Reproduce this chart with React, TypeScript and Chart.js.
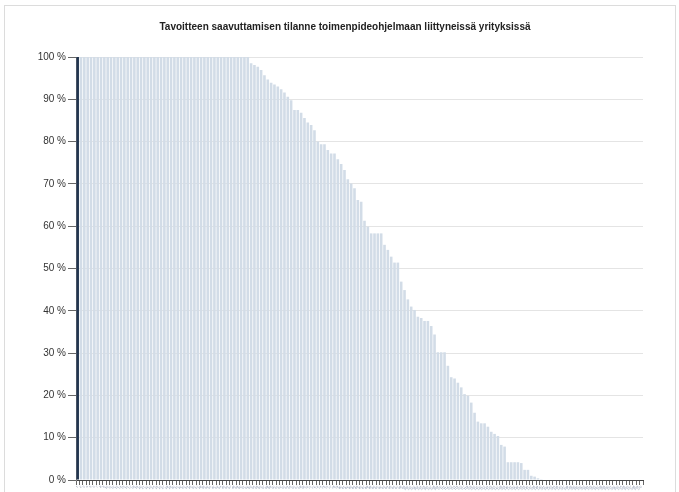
import React, { useEffect, useRef } from "react";
import { Chart, registerables } from "chart.js";

Chart.register(...registerables);

const chartTitle =
  "Tavoitteen saavuttamisen tilanne toimenpideohjelmaan liittyneissä yrityksissä";

// Achievement (%) per company, sorted descending
const achievement: number[] = [
  100, 100, 100, 100, 100, 100, 100, 100, 100, 100,
  100, 100, 100, 100, 100, 100, 100, 100, 100, 100,
  100, 100, 100, 100, 100, 100, 100, 100, 100, 100,
  100, 100, 100, 100, 100, 100, 100, 100, 100, 100,
  100, 100, 100, 100, 100, 100, 100, 100, 100, 100,
  100, 100,
  98.5, 98.1, 97.7, 96.9, 95.7, 94.7, 93.9, 93.5, 93, 92.4,
  91.6, 90.6, 89.8, 87.5, 87.5, 86.8, 85.6, 84.5, 83.9, 82.7,
  80, 79.4, 79.4, 78, 77.2, 77.2, 75.8, 74.7, 73.3, 71.1,
  70.1, 69, 66.2, 65.8, 61.3, 59.9, 58.3, 58.3, 58.3, 58.3,
  55.6, 54.4, 52.8, 51.4, 51.4, 46.9, 44.9, 42.7, 41, 40.2,
  38.6, 38.3, 37.6, 37.6, 36.4, 34.4, 30.2, 30.2, 30.2, 27,
  24.3, 24, 23, 21.9, 20.3, 19.9, 18.3, 15.9, 13.8, 13.4,
  13.4, 12.6, 11.4, 10.9, 10.4, 8.3, 7.9, 4.2, 4.2, 4.2,
  4.2, 4.0, 2.4, 2.4, 1.0, 0.8, 0.4, 0.2,
  0, 0, 0, 0, 0, 0, 0, 0, 0, 0,
  0, 0, 0, 0, 0, 0, 0, 0, 0, 0,
  0, 0, 0, 0, 0, 0, 0, 0, 0, 0,
];

// Company identifiers (illegible tiny labels in the source)
const companies: string[] = achievement.map((_, i) => String(i + 1));

const FONT = "'Liberation Sans', Arial, sans-serif";

const titlePlugin = {
  id: "centeredTitle",
  afterDraw(chart: any) {
    const ctx = chart.ctx;
    ctx.save();
    ctx.font = `bold 10px ${FONT}`;
    ctx.fillStyle = "#222";
    ctx.textAlign = "center";
    ctx.textBaseline = "middle";
    ctx.fillText(chartTitle, 345, 27);
    ctx.restore();
  },
};

export default function App() {
  const ref = useRef<HTMLCanvasElement>(null);

  useEffect(() => {
    document.body.style.margin = "0";
    const canvas = ref.current;
    if (!canvas) return;
    const chart = new Chart(canvas, {
      type: "bar",
      data: {
        labels: companies,
        datasets: [
          {
            data: achievement,
            backgroundColor: achievement.map((_, i) =>
              i === 0 ? "#22354f" : "#d2dce7"
            ),
            borderWidth: 0,
            barPercentage: 0.78,
            categoryPercentage: 1,
          },
        ],
      },
      options: {
        animation: false,
        responsive: false,
        layout: { padding: { left: 0, right: 36, top: 57, bottom: 0 } },
        plugins: {
          legend: { display: false },
          tooltip: { enabled: false },
          title: { display: false },
        },
        scales: {
          x: {
            grid: {
              display: true,
              drawOnChartArea: false,
              drawTicks: true,
              tickLength: 5,
              tickColor: "#666",
            },
            border: { display: true, color: "#444", width: 1 },
            ticks: {
              autoSkip: false,
              minRotation: 45,
              maxRotation: 45,
              padding: 0,
              color: "#7b89a6",
              font: { family: FONT, size: 3 },
            },
            afterFit: (s: any) => {
              s.height = 12;
            },
          },
          y: {
            min: 0,
            max: 100,
            ticks: {
              stepSize: 10,
              padding: 2,
              color: "#333",
              font: { family: FONT, size: 10 },
              callback: (v: any) => v + " %",
            },
            grid: {
              color: "#e4e4e4",
              tickLength: 8,
              tickColor: "#666",
            },
            border: { display: true, color: "#8a8a8a", width: 1 },
            afterFit: (s: any) => {
              s.width = 76;
            },
          },
        },
      },
      plugins: [titlePlugin],
    });
    return () => chart.destroy();
  }, []);

  return (
    <div
      style={{
        position: "fixed",
        left: 0,
        top: 0,
        width: 679,
        height: 492,
        background: "#fff",
        overflow: "hidden",
      }}
    >
      <div
        style={{
          position: "absolute",
          left: 4,
          top: 5,
          width: 672,
          height: 500,
          border: "1px solid #dcdcdc",
          boxSizing: "border-box",
        }}
      />
      <canvas
        ref={ref}
        width={679}
        height={492}
        style={{ position: "absolute", left: 0, top: 0, display: "block" }}
      />
    </div>
  );
}
